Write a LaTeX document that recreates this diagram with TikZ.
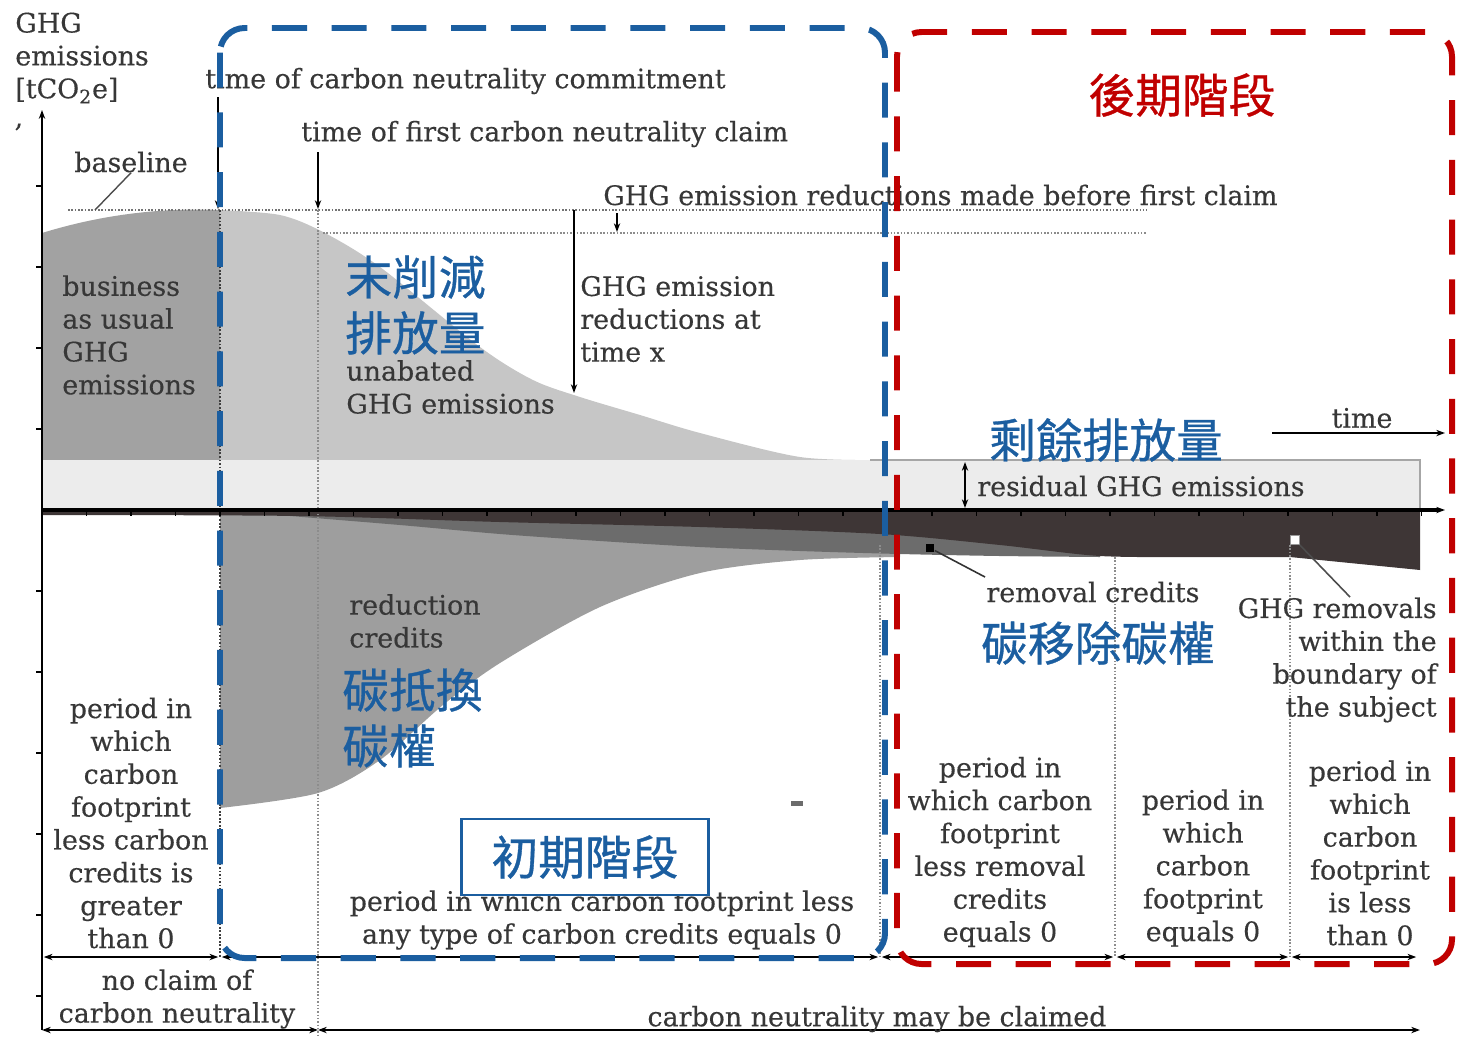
\documentclass[tikz,border=0pt]{standalone}
\usepackage{fontspec}
\setmainfont{DejaVu Serif}[FakeBold=0.35]
\newfontfamily\cjkfont{Noto Sans CJK TC}[FakeBold=0.7]
\usetikzlibrary{arrows.meta}

\definecolor{cnblue}{RGB}{27,94,160}
\definecolor{cnred}{RGB}{192,0,0}
\definecolor{baugray}{RGB}{162,162,162}
\definecolor{unabgray}{RGB}{198,198,198}
\definecolor{residgray}{RGB}{236,236,236}
\definecolor{remdark}{RGB}{62,54,54}
\definecolor{remmid}{RGB}{108,108,108}
\definecolor{redgray}{RGB}{158,158,158}
\definecolor{txtgray}{RGB}{55,55,55}

\newcommand{\lblfont}{\fontsize{15.3}{18.7}\selectfont}
\newcommand{\cnfont}{\cjkfont\fontsize{26.6}{31.8}\selectfont}

\begin{document}
\begin{tikzpicture}[x=0.02cm,y=-0.02cm,
  lbl/.style={font=\lblfont,text=txtgray,inner sep=0pt,align=center},
  cnlbl/.style={font=\cnfont,text=cnblue,inner sep=0pt,align=left},
  arr/.style={-{Stealth[length=5pt,width=3.6pt]}},
  darr/.style={{Stealth[length=5pt,width=3.6pt]}-{Stealth[length=5pt,width=3.6pt]}},
  guide/.style={black!45,densely dotted,line width=0.9pt},
  stagebox/.style={line width=3.4pt,dash pattern=on 20pt off 14pt,rounded corners=14pt}]

\useasboundingbox (0,0) rectangle (1457,1036);

% emission areas above the axis
\fill[baugray] (42,460) -- (42,233) .. controls (110,212) and (170,208) .. (220,210) -- (220,460) -- cycle;
\fill[unabgray] (220,460) -- plot[smooth] coordinates {(220,210) (280,215) (323,232) (380,267) (480,347) (533,380) (580,397) (640,415) (700,433) (800,457) (880,460)} -- cycle;
\fill[residgray] (42,460) rectangle (1420,508);
\draw[black!35,line width=0.8pt] (870,460) -- (1420,460) -- (1420,508);

% credit areas below the axis
\fill[redgray] (220,510) -- plot[smooth] coordinates {(220,808) (318,793) (380,760) (443,705) (500,663) (600,607) (700,573) (800,560) (900,557)} -- (900,510) -- cycle;
\fill[remmid] (290,510) -- plot[smooth] coordinates {(290,516) (400,525) (500,534) (600,541) (700,547) (800,551) (900,554) (1000,556) (1100,557)} -- (1100,510) -- cycle;
\fill[remdark] (42,510) -- plot[smooth] coordinates {(42,515) (300,516) (500,522) (700,527) (880,534) (1000,545) (1100,556) (1200,557)} -- (1290,557) -- (1420,570) -- (1420,510) -- cycle;
\fill[remmid] (791,801) rectangle (803,806);

% dotted guides
\draw[black!55,densely dotted,line width=0.9pt] (68,210) -- (1147,210);
\draw[guide] (323,233) -- (1147,233);
\draw[black!75,densely dotted,line width=1pt] (220,210) -- (220,957);
\draw[guide] (318,210) -- (318,1036);
\draw[guide] (880,545) -- (880,957);
\draw[guide] (1115,557) -- (1115,957);
\draw[guide] (1290,545) -- (1290,957);

% axes
\coordinate (origin) at (42,510);
\coordinate (yend) at (42,110);
\coordinate (ybot) at (42,1030);
\coordinate (xend) at (1445,510);
\draw[line width=1pt,arr] (ybot) -- (yend);
\draw[line width=2pt,arr] (origin) -- (xend);
\foreach \y in {186,267,348,429,591,672,753,834,915,996}
  \draw[line width=0.8pt] (36,\y) -- (42,\y);
\foreach \k in {1,...,31}
  \draw[line width=0.8pt] ({42+44.5*\k},510) -- ({42+44.5*\k},516);

% period timelines
\foreach \n/\x in {0/42,1/220,2/880,3/1115,4/1290,5/1418}
  \coordinate (p\n) at (\x,957);
\foreach \a/\b in {0/1,1/2,2/3,3/4,4/5}
  \draw[darr,line width=0.8pt,shorten <=1pt,shorten >=1pt] (p\a) -- (p\b);
\coordinate (c0) at (42,1030);
\coordinate (c1) at (318,1030);
\coordinate (c2) at (1420,1030);
\draw[darr,line width=0.8pt] (c0) -- (c1);
\draw[darr,line width=0.8pt] (c1) -- (c2);

% markers
\coordinate (commitTop) at (218,97);
\coordinate (commitBot) at (218,209);
\coordinate (claimTop) at (318,152);
\coordinate (claimBot) at (318,209);
\coordinate (redxTop) at (574,210);
\coordinate (redxBot) at (574,393);
\coordinate (preTop) at (617,213);
\coordinate (preBot) at (617,232);
\coordinate (resTop) at (965,462);
\coordinate (resBot) at (965,508);
\coordinate (timeA) at (1272,433);
\coordinate (timeB) at (1445,433);
\draw[arr,line width=0.8pt] (commitTop) -- (commitBot);
\draw[arr,line width=0.8pt] (claimTop) -- (claimBot);
\draw[arr,line width=0.8pt] (redxTop) -- (redxBot);
\draw[arr,line width=0.8pt] (preTop) -- (preBot);
\draw[darr,line width=0.8pt] (resTop) -- (resBot);
\draw[arr,line width=0.8pt] (timeA) -- (timeB);

% labels
\node[lbl,align=left,anchor=west] (ylab) at (15,58) {GHG\\emissions\\{[tCO\textsubscript{2}e]}};
\node[lbl] (comma) at (19,127) {,};
\node[lbl,anchor=west] (commit) at (205,81) {time of carbon neutrality commitment};
\node[lbl,anchor=west] (claim) at (301,134) {time of first carbon neutrality claim};
\node[lbl] (baselbl) at (131,162) {baseline};
\node[lbl,anchor=west] (prelbl) at (603,195) {GHG emission reductions made before first claim};
\node[lbl,align=left,anchor=west] (bau) at (62,335) {business\\as usual\\GHG\\emissions};
\node[lbl,align=left,anchor=west] (redx) at (580,319) {GHG emission\\reductions at\\time x};
\node[lbl,align=left,anchor=west] (unab) at (346,387) {unabated\\GHG emissions};
\node[lbl] (timelbl) at (1362,418) {time};
\node[lbl,anchor=west] (resid) at (977,486) {residual GHG emissions};
\node[lbl] (remlbl) at (1093,592) {removal credits};
\node[lbl,align=right,anchor=east] (inremlbl) at (1437,660) {GHG removals\\within the\\boundary of\\the subject};
\node[lbl,align=left,anchor=west] (redlbl) at (349,621) {reduction\\credits};

% pointers
\coordinate (baseTip) at (95,210);
\draw[black!70,line width=0.8pt] (baseTip) -- (baselbl.south);
\node[fill=black,inner sep=0pt,minimum size=5pt] (remsq) at (930,548) {};
\coordinate (remEnd) at (985,577);
\draw[black!80,line width=0.9pt] (remsq) -- (remEnd);
\node[fill=white,draw=black!40,inner sep=0pt,minimum size=5pt] (inremsq) at (1295,540) {};
\coordinate (inremEnd) at (1350,597);
\draw[black!70,line width=0.9pt] (inremsq) -- (inremEnd);

% period texts
\node[lbl] (per1) at (131,823) {period in\\which\\carbon\\footprint\\less carbon\\credits is\\greater\\than 0};
\node[lbl] (per2) at (602,920) {period in which carbon footprint less\\any type of carbon credits equals 0};
\node[lbl] (per3) at (1000,852) {period in\\which carbon\\footprint\\less removal\\credits\\equals 0};
\node[lbl] (per4) at (1203,868) {period in\\which\\carbon\\footprint\\equals 0};
\node[lbl] (per5) at (1370,853) {period in\\which\\carbon\\footprint\\is less\\than 0};
\node[lbl] (noclaim) at (177,999) {no claim of\\carbon neutrality};
\node[lbl] (mayclaim) at (877,1019) {carbon neutrality may be claimed};

% chinese labels
\node[cnlbl,anchor=west] (cnunab) at (345,305) {末削減\\排放量};
\node[cnlbl,anchor=west] (cnred) at (342,718) {碳抵換\\碳權};
\node[cnlbl] (cnresid) at (1106,440) {剩餘排放量};
\node[cnlbl] (cnrem) at (1098,643) {碳移除碳權};

% stage boxes
\draw[cnblue,stagebox] (220,28) rectangle (885,958);
\draw[cnred,stagebox] (897,32) rectangle (1452,964);
\node[draw=cnblue,line width=1.2pt,fill=white,minimum width=140.6pt,minimum height=43pt,font=\cnfont,text=cnblue,inner sep=0pt] (early) at (585,857) {初期階段};
\node[cnlbl,text=cnred] (late) at (1182,95) {後期階段};

\end{tikzpicture}
\end{document}
